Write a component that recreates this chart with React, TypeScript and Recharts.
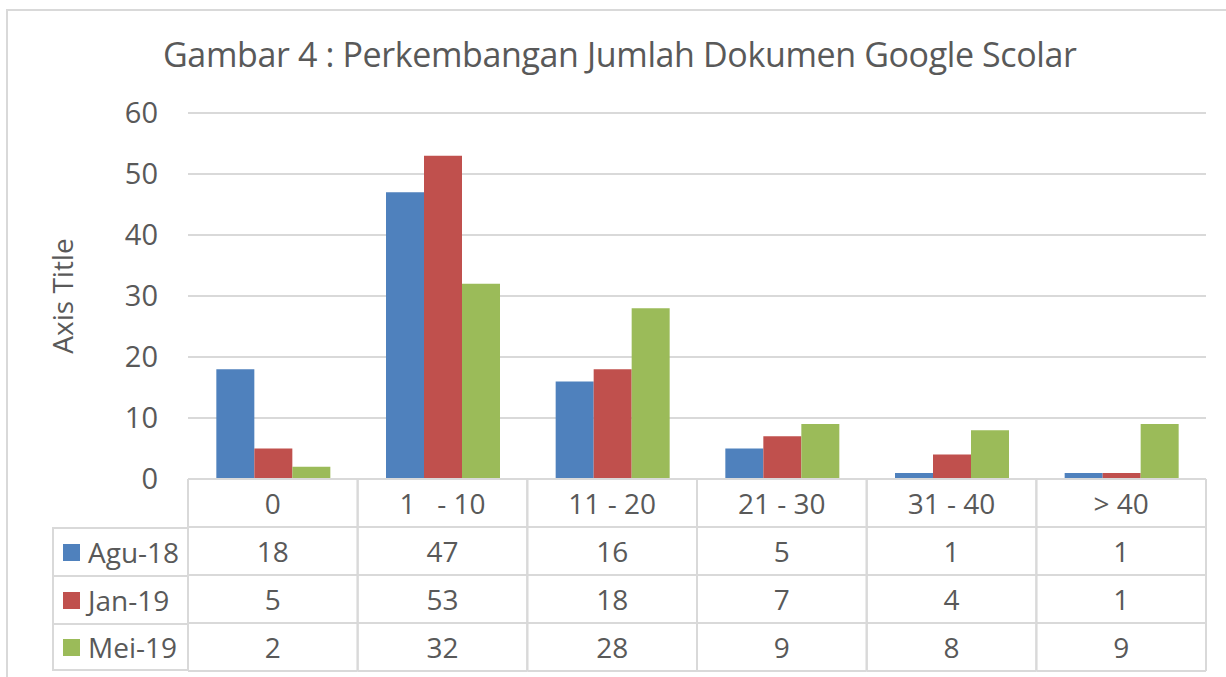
import React from 'react';
import { BarChart, Bar, XAxis, YAxis, CartesianGrid, Legend } from 'recharts';

const categories = ['0', '1   - 10', '11 - 20', '21 - 30', '31 - 40', '> 40'];
const agu18 = [18, 47, 16, 5, 1, 1];
const jan19 = [5, 53, 18, 7, 4, 1];
const mei19 = [2, 32, 28, 9, 8, 9];
const seriesNames = ['Agu-18', 'Jan-19', 'Mei-19'];
const seriesColors = ['#4F81BD', '#C0504D', '#9BBB59'];
const yTicks = [0, 10, 20, 30, 40, 50, 60];
const title = 'Gambar 4 : Perkembangan Jumlah Dokumen Google Scolar';
const axisTitle = 'Axis Title';

const seriesValues = [agu18, jan19, mei19];
const data = categories.map((c, i) => ({
  cat: c,
  [seriesNames[0]]: agu18[i],
  [seriesNames[1]]: jan19[i],
  [seriesNames[2]]: mei19[i],
}));

const W = 1226;
const H = 677;
const MARGIN = { top: 113, right: 20, bottom: 6, left: 0 };
const Y_W = 188;
const X_H = 192;
const ROW_H = 48;
const PLOT_W = W - MARGIN.left - MARGIN.right - Y_W;
const COL_W = PLOT_W / categories.length;
const LINE = '#D9D9D9';
const TXT = '#595959';
const FONT = '"Open Sans", sans-serif';

const TableTick = (props: any) => {
  const { x, y, payload } = props;
  const i = categories.indexOf(payload.value);
  const half = COL_W / 2;
  const l = x - half;
  const r = x + half;
  return (
    <g>
      {[0, 1, 2, 3, 4].map((k) => (
        <line key={'h' + k} x1={l} x2={r} y1={y + k * ROW_H} y2={y + k * ROW_H} stroke={LINE} strokeWidth={2} />
      ))}
      <line x1={l} x2={l} y1={y} y2={y + 4 * ROW_H} stroke={LINE} strokeWidth={2} />
      <line x1={r} x2={r} y1={y} y2={y + 4 * ROW_H} stroke={LINE} strokeWidth={2} />
      <text x={x} y={y + ROW_H / 2} textAnchor="middle" dominantBaseline="central" fill={TXT}
        fontSize={28} fontFamily={FONT} style={{ whiteSpace: 'pre' }}>
        {payload.value}
      </text>
      {seriesValues.map((vals, k) => (
        <text key={'v' + k} x={x} y={y + ROW_H * (k + 1) + ROW_H / 2} textAnchor="middle"
          dominantBaseline="central" fill={TXT} fontSize={28} fontFamily={FONT}>
          {vals[i]}
        </text>
      ))}
    </g>
  );
};

const LegendColumn = (props: any) => {
  const items = props.payload || [];
  return (
    <div style={{ width: '100%', fontFamily: FONT, color: TXT, fontSize: 28, textAlign: 'left' }}>
      {items.map((it: any, k: number) => (
        <div key={k} style={{
          height: ROW_H, boxSizing: 'border-box', display: 'flex', alignItems: 'center',
          borderTop: `2px solid ${LINE}`, borderLeft: `2px solid ${LINE}`,
          borderBottom: k === items.length - 1 ? `2px solid ${LINE}` : undefined,
          paddingLeft: 9,
        }}>
          <span style={{ display: 'inline-block', width: 17, height: 17, background: it.color, marginRight: 8 }} />
          <span style={{ lineHeight: '28px' }}>{it.value}</span>
        </div>
      ))}
    </div>
  );
};

const AxisTitleLabel = (props: any) => {
  const vb = props.viewBox || { x: 0, y: 0, width: 0, height: 0 };
  const cx = 62;
  const cy = vb.y + vb.height / 2;
  return (
    <text x={cx} y={cy} transform={`rotate(-90 ${cx} ${cy})`} textAnchor="middle" dominantBaseline="central"
      fill={TXT} fontSize={28} fontFamily={FONT}>
      {axisTitle}
    </text>
  );
};

export default function App() {
  return (
    <div style={{ position: 'fixed', left: 0, top: 0, width: W, height: H, background: '#fff', overflow: 'hidden' }}>
      <div style={{ position: 'absolute', left: 6, top: 9, width: W, height: H, borderLeft: `2px solid ${LINE}`, borderTop: `2px solid ${LINE}` }} />
      <BarChart width={W} height={H} data={data} margin={MARGIN} barCategoryGap="16.7%" barGap={0}>
        <CartesianGrid horizontal vertical={false} stroke={LINE} strokeWidth={2} />
        <XAxis dataKey="cat" interval={0} tickLine={false} axisLine={false} tickSize={0} tickMargin={0}
          height={X_H} tick={<TableTick />} />
        <YAxis width={Y_W} domain={[0, 60]} ticks={yTicks} interval={0} tickLine={false} axisLine={false}
          tickSize={22} tickMargin={8} tick={{ fill: TXT, fontSize: 29, fontFamily: FONT }}
          label={<AxisTitleLabel />} />
        <Legend layout="horizontal" verticalAlign="middle" align="center" content={<LegendColumn />}
          wrapperStyle={{ position: 'absolute', left: 52, top: 527, width: 136, height: 146 }} />
        {seriesNames.map((n, k) => (
          <Bar key={n} dataKey={n} name={n} fill={seriesColors[k]} isAnimationActive={false} />
        ))}
      </BarChart>
      <svg width={W} height={100} style={{ position: 'absolute', left: 0, top: 0, pointerEvents: 'none' }}>
        <text x={620} y={67} textAnchor="middle" fill={TXT} fontSize={34} fontFamily={FONT}
          textLength={914} lengthAdjust="spacing">
          {title}
        </text>
      </svg>
    </div>
  );
}
